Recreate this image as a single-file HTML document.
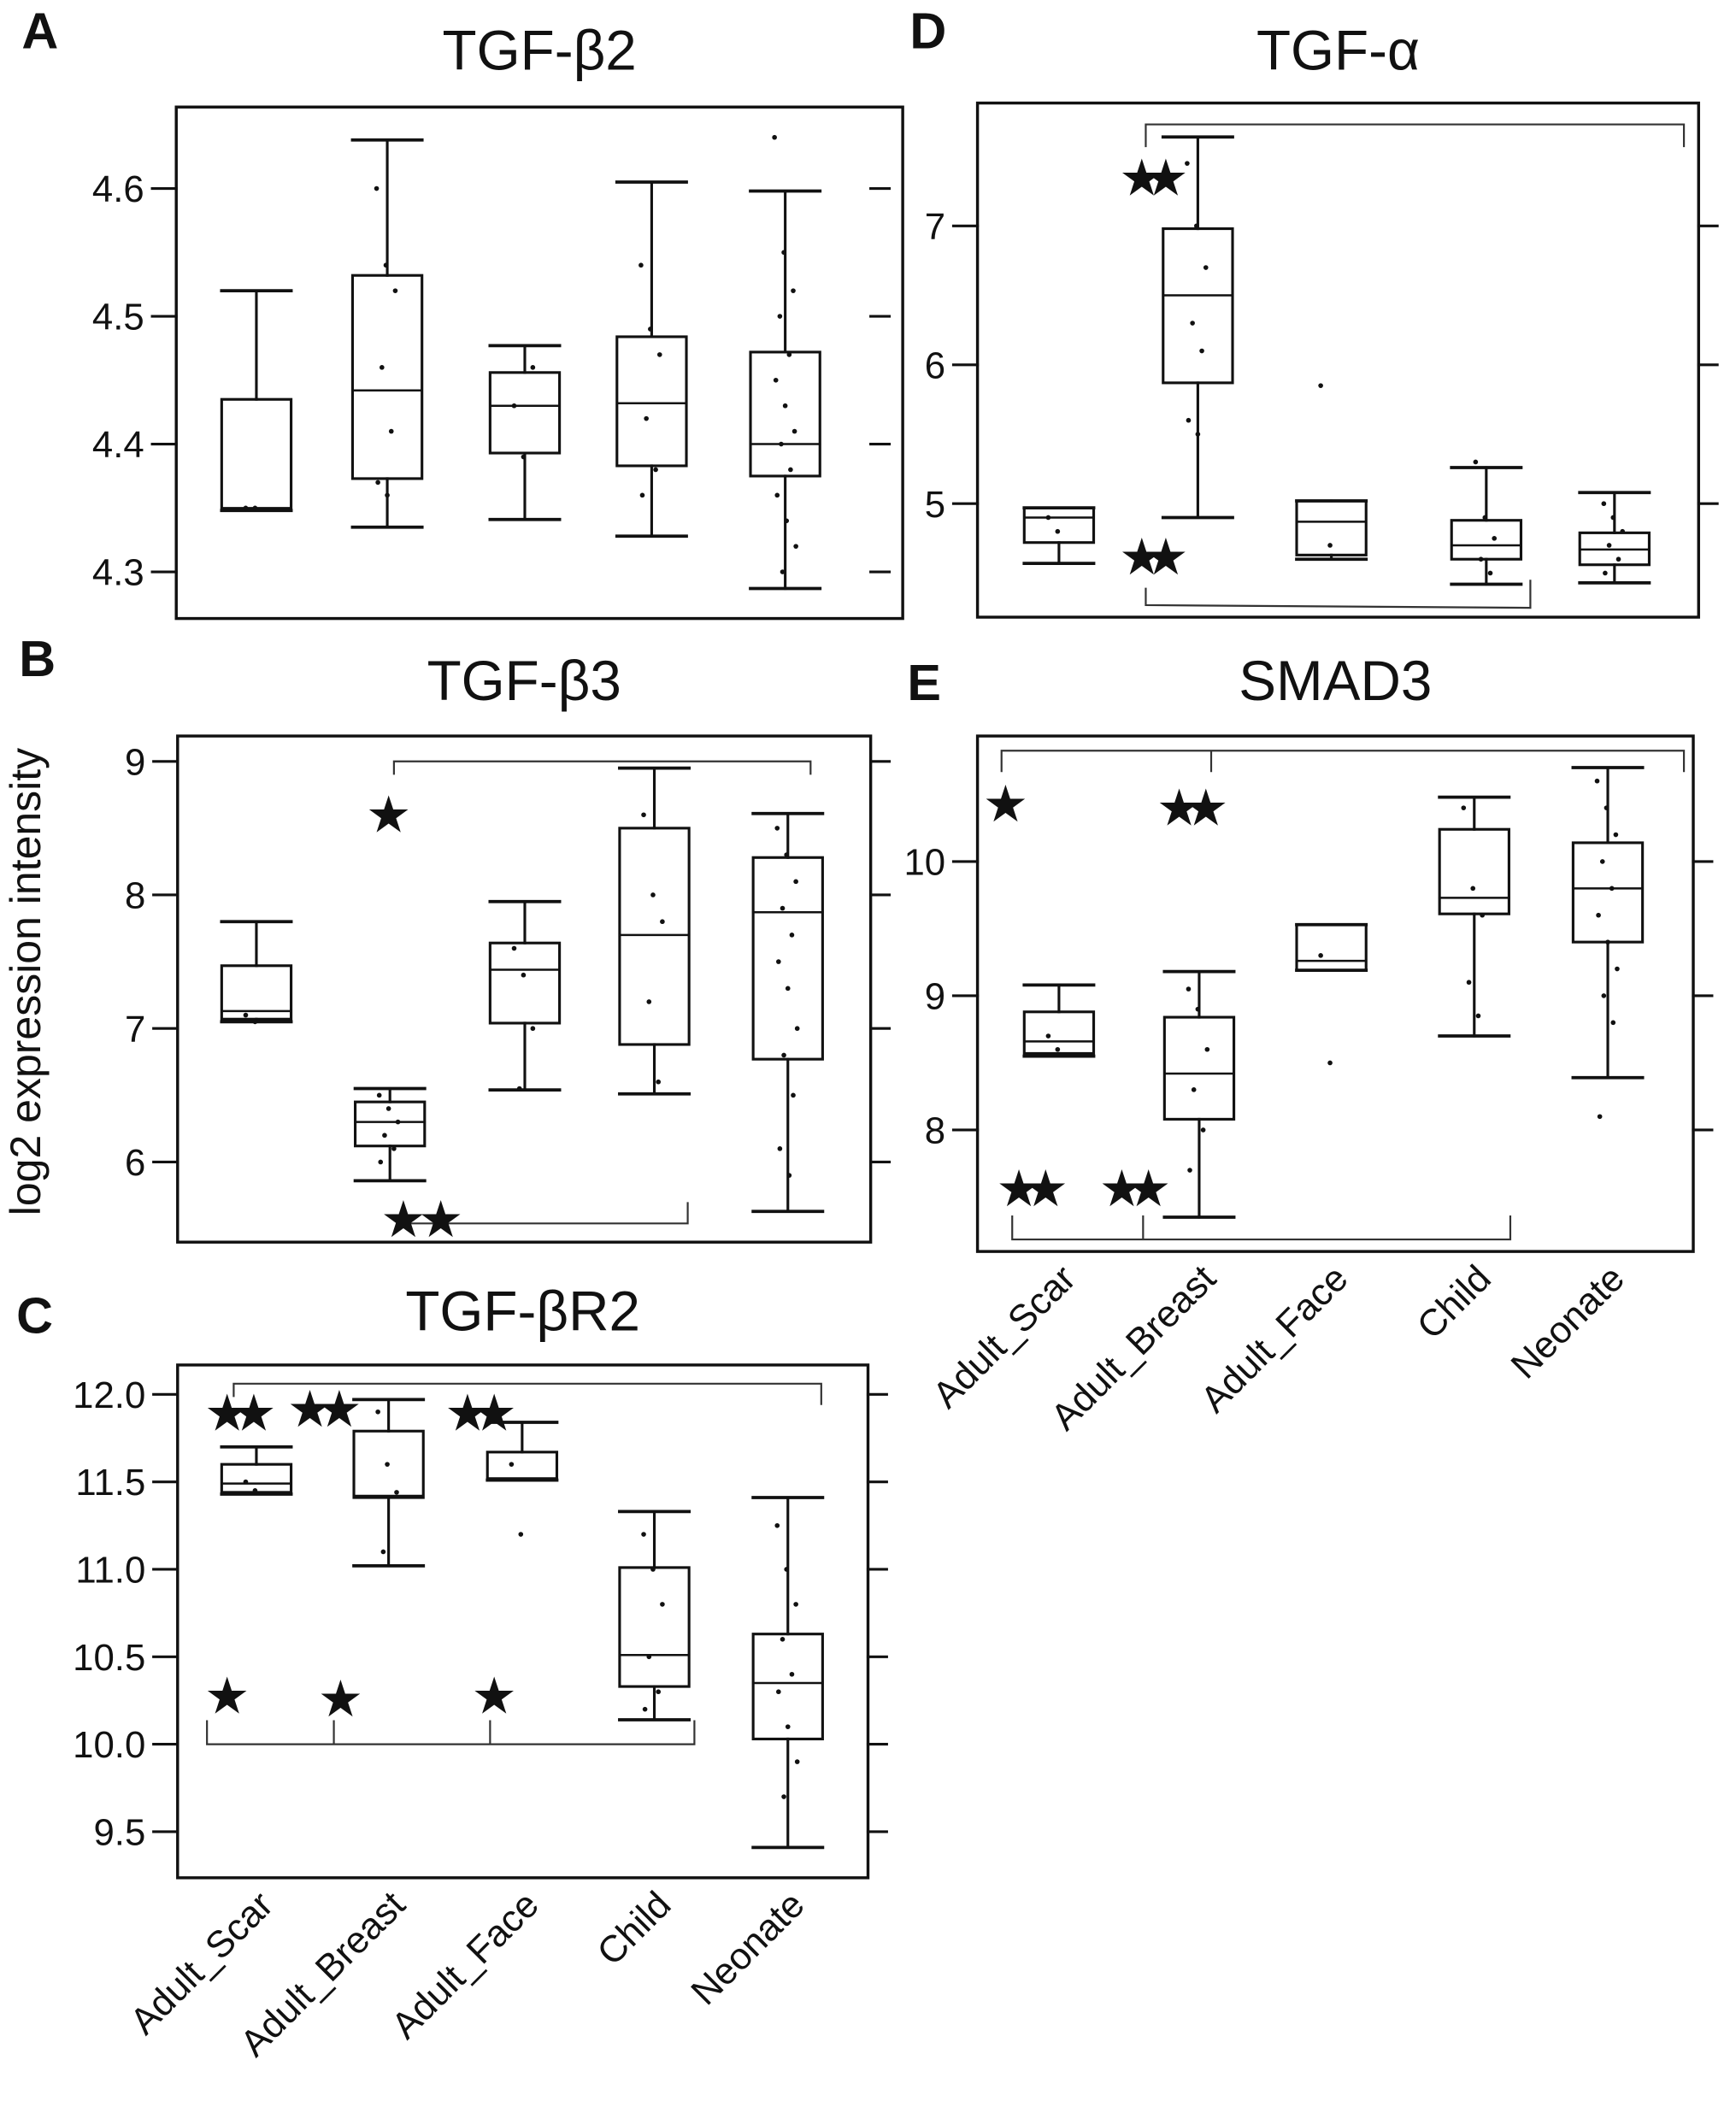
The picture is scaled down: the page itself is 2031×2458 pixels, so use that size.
<!DOCTYPE html>
<html><head><meta charset="utf-8"><style>
html,body{margin:0;padding:0;background:#fff}
svg{display:block}
text{font-family:"Liberation Sans",sans-serif;fill:#111}
</style></head><body>
<svg id="fig" width="2031" height="2458" viewBox="0 0 1300 1573" xmlns="http://www.w3.org/2000/svg">
<rect width="1300" height="1573" fill="#fff"/>
<g id="root"></g>
</svg>
<script>
const categories = ["Adult_Scar","Adult_Breast","Adult_Face","Child","Neonate"];
// box stats: [low, q1, median, q3, high]
const statsA = [[4.348,4.348,4.35,4.435,4.52],[4.335,4.373,4.442,4.532,4.638],[4.341,4.393,4.43,4.456,4.477],[4.328,4.383,4.432,4.484,4.605],[4.287,4.375,4.4,4.472,4.598]];
const statsB = [[7.05,7.07,7.13,7.47,7.8],[5.86,6.12,6.3,6.45,6.55],[6.54,7.04,7.44,7.64,7.95],[6.51,6.88,7.7,8.5,8.95],[5.63,6.77,7.87,8.28,8.61]];
const statsC = [[11.43,11.44,11.49,11.6,11.7],[11.02,11.41,11.42,11.79,11.97],[11.51,11.51,11.52,11.67,11.84],[10.14,10.33,10.51,11.01,11.33],[9.41,10.03,10.35,10.63,11.41]];
const statsD = [[4.57,4.72,4.9,4.97,4.97],[4.9,5.87,6.5,6.98,7.64],[4.6,4.63,4.87,5.02,5.02],[4.42,4.6,4.7,4.88,5.26],[4.43,4.56,4.67,4.79,5.08]];
const statsE = [[8.55,8.57,8.66,8.88,9.08],[7.35,8.08,8.42,8.84,9.18],[9.19,9.19,9.26,9.53,9.53],[8.7,9.61,9.73,10.24,10.48],[8.39,9.4,9.8,10.14,10.7]];
const ticksA = [4.3,4.4,4.5,4.6], ticksB=[6,7,8,9], ticksC=[9.5,10,10.5,11,11.5,12], ticksD=[5,6,7], ticksE=[8,9,10];
const labelsA = ["4.3","4.4","4.5","4.6"], labelsB=["6","7","8","9"], labelsC=["9.5","10.0","10.5","11.0","11.5","12.0"], labelsD=["5","6","7"], labelsE=["8","9","10"];
// sample points per group
const ptsA = [[4.35,4.35],[4.6,4.54,4.52,4.46,4.41,4.37,4.36],[4.43,4.39,4.46],[4.54,4.49,4.47,4.42,4.38,4.36],[4.64,4.55,4.52,4.5,4.47,4.45,4.43,4.41,4.4,4.38,4.36,4.34,4.32,4.3]];
const ptsB = [[7.1,7.05],[6.5,6.4,6.3,6.2,6.1,6.0],[7.6,7.4,7.0,6.55],[8.6,8.0,7.8,7.2,6.6],[8.5,8.3,8.1,7.9,7.7,7.5,7.3,7.0,6.8,6.5,6.1,5.9]];
const ptsC = [[11.5,11.45],[11.9,11.6,11.44,11.1],[11.6,11.2],[11.2,11.0,10.8,10.5,10.3,10.2],[11.25,11.0,10.8,10.6,10.4,10.3,10.1,9.9,9.7]];
const ptsD = [[4.9,4.8],[7.45,7.0,6.7,6.3,6.1,5.6,5.5],[5.85,4.7],[5.3,4.9,4.75,4.6,4.5],[5.0,4.9,4.8,4.7,4.6,4.5]];
const ptsE = [[8.7,8.6],[9.05,8.9,8.6,8.3,8.0,7.7],[9.3,8.5],[10.4,9.8,9.6,9.1,8.85],[10.6,10.4,10.2,10.0,9.8,9.6,9.4,9.2,9.0,8.8,8.1]];

const NS="http://www.w3.org/2000/svg";
const root=document.getElementById('root');
function mk(tag,attrs,parent){const e=document.createElementNS(NS,tag);for(const k in attrs)e.setAttribute(k,attrs[k]);(parent||root).appendChild(e);return e;}
function line(x1,y1,x2,y2,p,w){return mk('line',{x1,y1,x2,y2,stroke:'#111','stroke-width':w||2,'stroke-linecap':'square'},p);}
function txt(x,y,s,size,anchor,p,extra){const t=mk('text',Object.assign({x,y,'font-size':size,'text-anchor':anchor||'middle'},extra||{}),p);t.textContent=s;return t;}

function panel(cfg){
  const g=mk('g',{});
  
  
  const y=v=>cfg.y0+(cfg.v0-v)*cfg.ppu;
  const frame=mk('rect',{x:cfg.l,y:cfg.t,width:cfg.r-cfg.l,height:cfg.b-cfg.t,fill:'none',stroke:'#111','stroke-width':2.2},g);
  
  
  cfg.ticks.forEach((v,i)=>{
    const yy=y(v);
    line(cfg.l-18,yy,cfg.l,yy,g);
    line(cfg.rt,yy,cfg.rt+14,yy,g);
    const t=txt(cfg.l-24,yy+10,cfg.labels[i],28,'end',g);
    
    
  });
  cfg.stats.forEach((s,i)=>{
    const cx=cfg.xs[i],hw=26;
    const bg=mk('g',{},g);
    
    
    line(cx,y(s[0]),cx,y(s[1]),bg);
    line(cx,y(s[3]),cx,y(s[4]),bg);
    line(cx-hw,y(s[0]),cx+hw,y(s[0]),bg,2.4);
    line(cx-hw,y(s[4]),cx+hw,y(s[4]),bg,2.4);
    mk('rect',{x:cx-hw,y:y(s[3]),width:hw*2,height:Math.max(1,y(s[1])-y(s[3])),fill:'none',stroke:'#111','stroke-width':2},bg);
    line(cx-hw,y(s[2]),cx+hw,y(s[2]),bg,1.6);
    (cfg.pts[i]||[]).forEach((v,j)=>{
      const d=mk('circle',{cx:cx+((j*7)%17-8),cy:y(v),r:1.8,fill:'#111'},bg);
      
      
    });
  });
  const ti=txt((cfg.l+cfg.r)/2,cfg.titleY,cfg.title,42,'middle',g);
  
  
  const le=txt(cfg.letterX,cfg.letterY,cfg.letter,38,'middle',g,{'font-weight':'bold'});
  
  
  (cfg.br||[]).forEach(pl=>{
    const p=mk('polyline',{points:pl,fill:'none',stroke:'#333','stroke-width':1.4},g);
    
    
  });
  (cfg.stars||[]).forEach(st=>{
    const s=txt(st[0],st[1]+13,'★',38,'middle',g);
    
    
  });
  if(cfg.xlab){
    categories.forEach((c,i)=>{
      const x=cfg.xs[i]+14, yy=cfg.b+22;
      const t=txt(x,yy,c,28,'end',g,{transform:`rotate(-45 ${x} ${yy})`});
      
      
    });
  }
}

panel({name:'panel-a-tgf-b2',l:132,r:676,t:80,b:463,rt:652,y0:141,v0:4.6,ppu:957,ticks:ticksA,labels:labelsA,stats:statsA,pts:ptsA,xs:[192,290,393,488,588],title:'TGF-β2',titleY:52,letter:'A',letterX:30,letterY:36});
panel({name:'panel-b-tgf-b3',l:133,r:652,t:551,b:930,rt:652,y0:570,v0:9,ppu:100,ticks:ticksB,labels:labelsB,stats:statsB,pts:ptsB,xs:[192,292,393,490,590],title:'TGF-β3',titleY:524,letter:'B',letterX:28,letterY:506,
  br:["295,580 295,570 607,570 607,580","300,916 515,916 515,900"],stars:[[291,610],[302,913],[330,913]]});
panel({name:'panel-c-tgf-br2',l:133,r:650,t:1022,b:1406,rt:650,y0:1044,v0:12,ppu:131,ticks:ticksC,labels:labelsC,stats:statsC,pts:ptsC,xs:[192,291,391,490,590],title:'TGF-βR2',titleY:996,letter:'C',letterX:26,letterY:998,xlab:true,
  br:["175,1046 175,1036 615,1036 615,1052","155,1288 155,1306 520,1306 520,1288","250,1306 250,1288","367,1306 367,1288"],
  stars:[[170,1058],[190,1058],[232,1055],[254,1055],[350,1058],[370,1058],[170,1270],[255,1272],[370,1270]]});
panel({name:'panel-d-tgf-a',l:732,r:1272,t:77,b:462,rt:1272,y0:169,v0:7,ppu:104,ticks:ticksD,labels:labelsD,stats:statsD,pts:ptsD,xs:[793,897,997,1113,1209],title:'TGF-α',titleY:52,letter:'D',letterX:695,letterY:36,
  br:["858,110 858,93 1261,93 1261,110","858,440 858,453 1146,455 1146,434"],stars:[[855,133],[873,133],[855,417],[873,417]]});
panel({name:'panel-e-smad3',l:732,r:1268,t:551,b:937,rt:1268,y0:645,v0:10,ppu:100.5,ticks:ticksE,labels:labelsE,stats:statsE,pts:ptsE,xs:[793,898,997,1104,1204],title:'SMAD3',titleY:524,letter:'E',letterX:692,letterY:524,xlab:true,
  br:["750,578 750,562 1261,562 1261,578","907,562 907,578","758,910 758,928 1131,928 1131,910","856,928 856,910"],
  stars:[[753,602],[883,605],[903,605],[763,890],[783,890],[840,890],[860,890]]});

const yt=txt(30,735,'log2 expression intensity',32,'middle',root,{transform:'rotate(-90 30 735)'});


</script>
</body></html>
